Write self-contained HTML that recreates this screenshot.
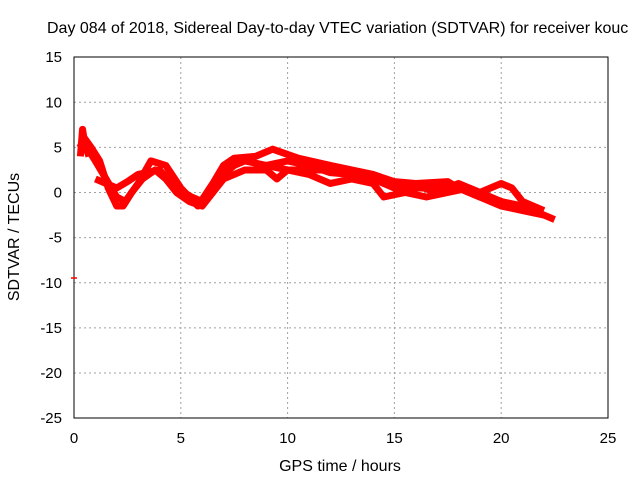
<!DOCTYPE html>
<html><head><meta charset="utf-8"><style>
body{margin:0;background:#fff;width:640px;height:480px;overflow:hidden}
text{font-family:"Liberation Sans",sans-serif;font-size:15px;fill:#000}
</style></head><body>
<svg id="chart" width="640" height="480" xmlns="http://www.w3.org/2000/svg">
<rect width="640" height="480" fill="#fff"/>
<text x="47" y="33" style="font-size:16px">Day 084 of 2018, Sidereal Day-to-day VTEC variation (SDTVAR) for receiver kouc</text>
<text x="340" y="471" text-anchor="middle" style="font-size:16px">GPS time / hours</text>
<text transform="translate(19,237) rotate(-90)" text-anchor="middle" style="font-size:16px">SDTVAR / TECUs</text>
<g id="grid"></g>
<g id="ticks"></g>
<g id="series"></g>
<rect x="74" y="57" width="534" height="361" fill="none" stroke="#000" stroke-width="1"/>
<line x1="71" y1="278" x2="77" y2="278" stroke="#f00" stroke-width="1.5"/>
</svg>
<script>
const xTicks=[0,5,10,15,20,25];
const yTicks=[15,10,5,0,-5,-10,-15,-20,-25];
const trackA_t=[0.3,0.5,0.8,1.2,1.6,2.0,2.3,2.7,3.2,3.8,4.3,4.8,5.4,6.0,6.5,7.0,7.5,8.0,9.0,10,11,12,13,14,15,16,17,18,19,20,21,22,22.5];
const trackA_v=[5,6,5,3.5,0.5,-1.5,-1.5,0,1.5,2.5,1.5,0,-1,-1.5,0,2,3,3.5,3,2.5,2.5,2.5,2,1.5,1,0.5,0.5,0.5,-0.5,-1,-1.5,-2.5,-3];
const trackB_t=[0.2,0.6,1.0,1.5,2.0,2.4,3.0,3.6,4.3,5,5.8,6.5,7,7.5,8.5,9.3,10.5,12,13,14,15,16,17.5,18,19,20,21,22];
const trackB_v=[5.5,5,3.5,1.5,-0.5,-1,1,3.5,3,0.5,-1.5,1,3,3.8,4,4.8,3.8,3,2.5,2,1.2,1,1.2,0.5,-0.5,-1.5,-2,-2.5];
const trackC_t=[1.0,1.5,2.0,2.5,3.0,4.0,4.8,5.5,6.0,6.5,7.0,8,9,9.5,10,11,12,13,14,14.5,15.5,16.5,17.5,18.5,19.5,20.5,21.5];
const trackC_v=[1.5,1,0.5,1.2,2,2.5,0.5,-0.5,-1,0,1.5,2.5,2.5,1.5,2.5,2,1,1.5,1.0,-0.5,0,-0.5,0,0.5,-0.5,-1.5,-1.5];
const trackD_t=[9,10,11,12,13,14,15,16,17,18,19,20,20.5,21,22];
const trackD_v=[3,3.5,3,2.2,2,1.5,0.5,0.8,0,1,0,1,0.5,-1,-2];
const trackE_t=[0.3,0.4,0.5,0.7];
const trackE_v=[4,7,5.5,4];
const X=t=>74+t*(534/25);
const Y=v=>192.5-v*(361/40);
const NS="http://www.w3.org/2000/svg";
const grid=document.getElementById('grid'),ticks=document.getElementById('ticks'),ser=document.getElementById('series');
xTicks.forEach(t=>{
 if(t>0&&t<25){const l=document.createElementNS(NS,'line');
 
 
 l.setAttribute('x1',X(t));l.setAttribute('x2',X(t));l.setAttribute('y1',57);l.setAttribute('y2',418);
 l.setAttribute('stroke','#a0a0a0');l.setAttribute('stroke-dasharray','2,3');grid.appendChild(l);}
 const tx=document.createElementNS(NS,'text');
 
 
 tx.setAttribute('x',X(t));tx.setAttribute('y',443);tx.setAttribute('text-anchor','middle');tx.textContent=t;ticks.appendChild(tx);
});
yTicks.forEach(v=>{
 if(v<15&&v>-25){const l=document.createElementNS(NS,'line');
 
 
 l.setAttribute('x1',74);l.setAttribute('x2',608);l.setAttribute('y1',Y(v));l.setAttribute('y2',Y(v));
 l.setAttribute('stroke','#a0a0a0');l.setAttribute('stroke-dasharray','2,3');grid.appendChild(l);}
 const tx=document.createElementNS(NS,'text');
 
 
 tx.setAttribute('x',62);tx.setAttribute('y',Y(v)+5);tx.setAttribute('text-anchor','end');tx.textContent=v;ticks.appendChild(tx);
});
[[trackA_t,trackA_v],[trackB_t,trackB_v],[trackC_t,trackC_v],[trackD_t,trackD_v],[trackE_t,trackE_v]].forEach(([ts,vs],i)=>{
 const p=document.createElementNS(NS,'polyline');
 
 
 p.setAttribute('points',ts.map((t,j)=>X(t)+','+Y(vs[j])).join(' '));
 p.setAttribute('fill','none');p.setAttribute('stroke','#ff0000');p.setAttribute('stroke-width','7');
 p.setAttribute('stroke-linejoin','round');
 ser.appendChild(p);
});
</script>
</body></html>
